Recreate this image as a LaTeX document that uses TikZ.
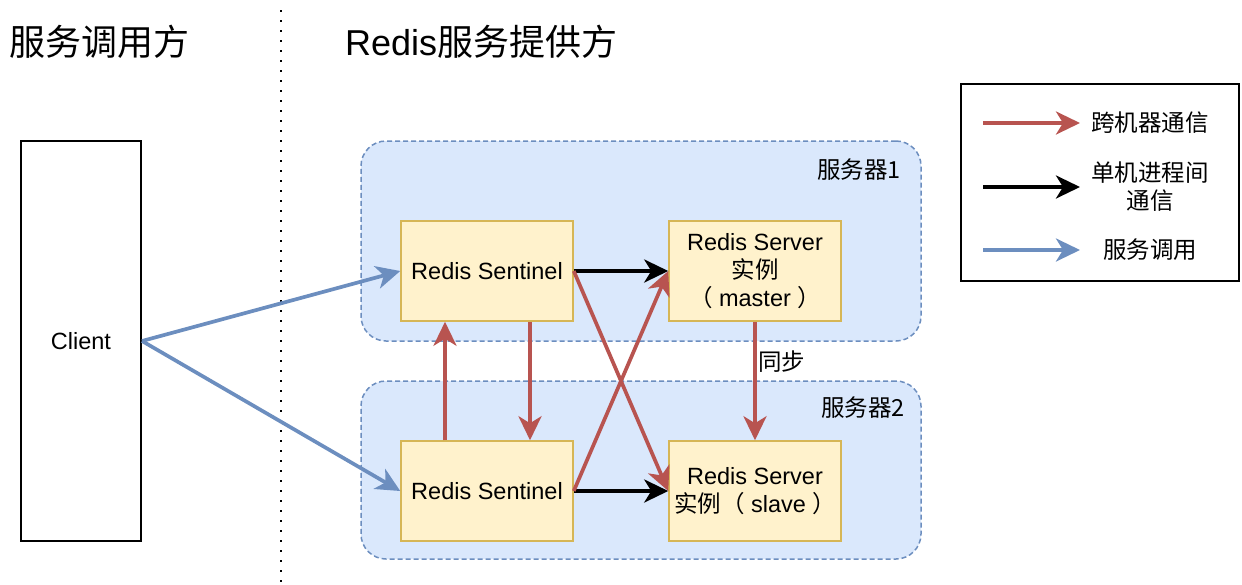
\documentclass[tikz,border=0pt]{standalone}
\usepackage{fontspec}
\setmainfont{Liberation Sans}
\newfontfamily\cjk{Noto Sans CJK SC}
\usetikzlibrary{arrows.meta}
\definecolor{redc}{HTML}{B85450}
\definecolor{bluec}{HTML}{6C8EBF}
\definecolor{yfill}{HTML}{FFF2CC}
\definecolor{ydraw}{HTML}{D6B656}
\definecolor{gfill}{HTML}{DAE8FC}
\tikzset{
  txt/.style={font=\fontsize{23.5}{28}\selectfont, inner sep=0pt},
  box/.style={txt, draw=ydraw, fill=yfill, line width=1.5pt, minimum width=172pt, minimum height=100pt, align=center},
  grp/.style={draw=bluec, fill=gfill, line width=1.5pt, dash pattern=on 5pt off 3pt, rounded corners=25pt, minimum width=560pt},
  arr/.style={line width=3.7pt, -{Stealth[length=24pt,width=23pt,inset=7pt]}},
  title/.style={font=\fontsize{36}{40}\selectfont, inner sep=0pt, anchor=west},
}
\begin{document}
\begin{tikzpicture}[x=1pt,y=-1pt]
\useasboundingbox (0,0) rectangle (1242,584);
% titles
\node[title] (t1) at (9,42) {\cjk 服务调用方};
\node[title] (t2) at (345,42) {Redis{\cjk 服务提供方}};
% divider
\coordinate (d1) at (281,10);
\coordinate (d2) at (281,584);
\draw[line width=2pt, dash pattern=on 2pt off 8pt] (d1) -- (d2);
% groups
\node[grp, minimum height=200pt] (g1) at (641,241) {};
\node[grp, minimum height=178pt] (g2) at (641,470) {};
\node[txt, anchor=east] (g1l) at (901,170) {\cjk 服务器1};
\node[txt, anchor=east] (g2l) at (905,408) {\cjk 服务器2};
% client
\node[txt, draw, line width=2pt, minimum width=120pt, minimum height=400pt] (c) at (81,341) {Client};
% boxes
\node[box] (s1) at (487,271) {Redis Sentinel};
\node[box] (m) at (755,271) {Redis Server\\{\cjk 实例}\\{\cjk （} master {\cjk ）}};
\node[box] (s2) at (487,491) {Redis Sentinel};
\node[box] (sl) at (755,491) {Redis Server\\{\cjk 实例（} slave {\cjk ）}};
% edges
\draw[arr, bluec] (c.east) -- (s1.west);
\draw[arr, bluec] (c.east) -- (s2.west);
\draw[arr, black] (s1.east) -- (m.west);
\draw[arr, black] (s2.east) -- (sl.west);
\draw[arr, redc] (s1.east) -- (sl.west);
\draw[arr, redc] (s2.east) -- (m.west);
\draw[arr, redc] ([xshift=-42pt]s2.north) -- ([xshift=-42pt]s1.south);
\draw[arr, redc] ([xshift=43pt]s1.south) -- ([xshift=43pt]s2.north);
\draw[arr, redc] (m.south) -- (sl.north);
\node[txt, anchor=west] (sync) at (758,362) {\cjk 同步};
% legend
\node[draw, line width=2pt, minimum width=278pt, minimum height=197pt, inner sep=0pt] (lg) at (1100,182.5) {};
\coordinate (la1) at (983,123); \coordinate (lb1) at (1080,123);
\coordinate (la2) at (983,187); \coordinate (lb2) at (1080,187);
\coordinate (la3) at (983,250); \coordinate (lb3) at (1080,250);
\draw[arr, redc] (la1) -- (lb1);
\draw[arr, black] (la2) -- (lb2);
\draw[arr, bluec] (la3) -- (lb3);
\node[txt] (l1) at (1150,123) {\cjk 跨机器通信};
\node[txt, align=center] (l2) at (1150,187) {\cjk 单机进程间\\\cjk 通信};
\node[txt] (l3) at (1150,250) {\cjk 服务调用};
\end{tikzpicture}
\end{document}
